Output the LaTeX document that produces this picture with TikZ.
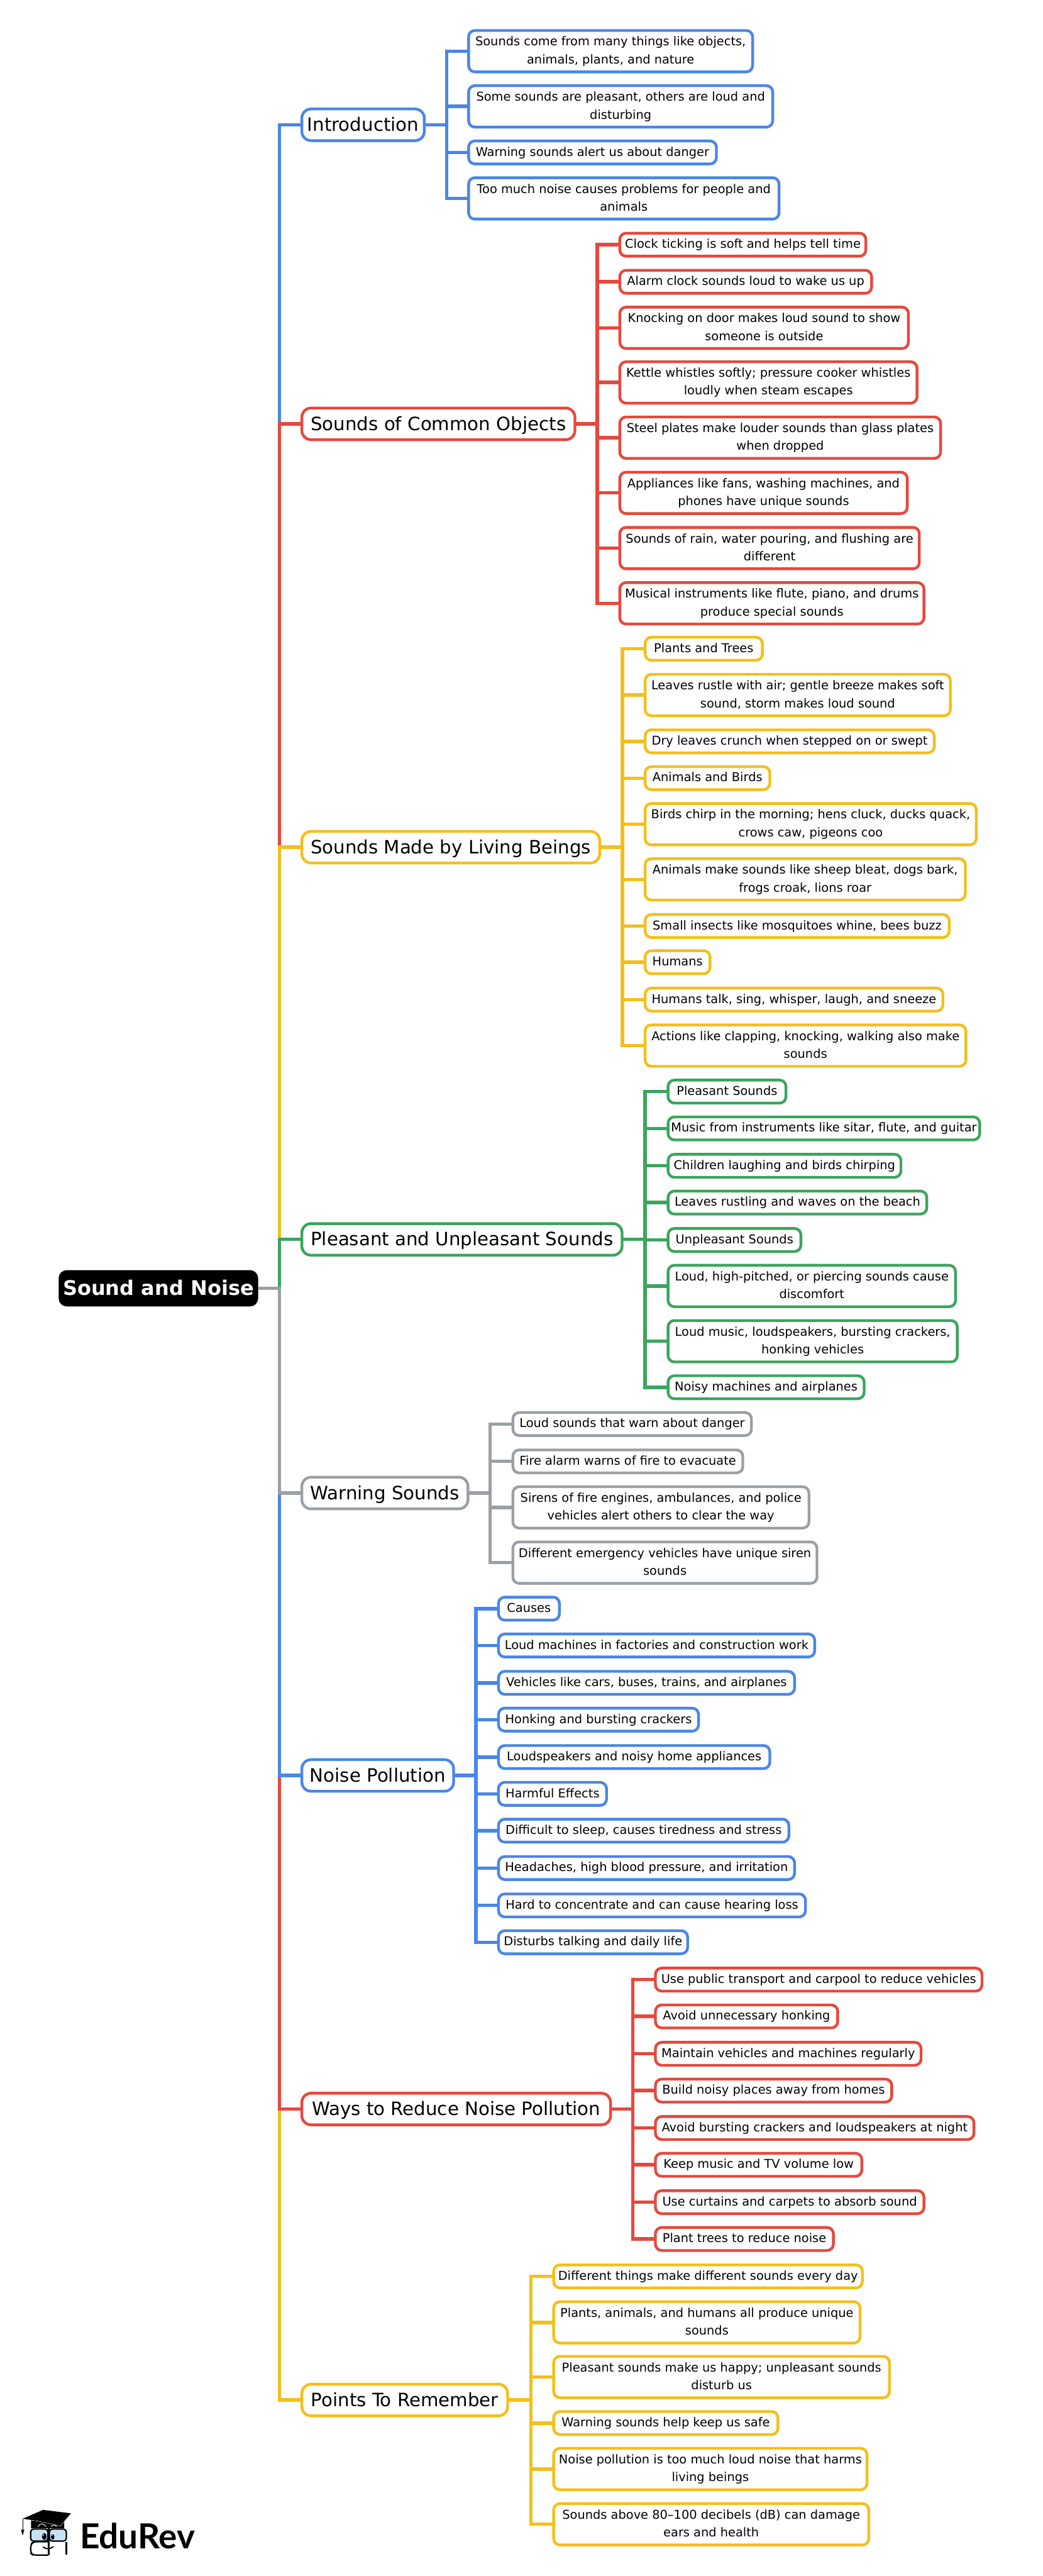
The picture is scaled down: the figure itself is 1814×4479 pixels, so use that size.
\documentclass[tikz,border=0pt]{standalone}
\usepackage{fontspec}
\setmainfont{DejaVu Sans}
\newfontfamily\logofont{Lato}
\definecolor{cblue}{HTML}{4A86E8}
\definecolor{cred}{HTML}{E6483D}
\definecolor{cyellow}{HTML}{F4BF1B}
\definecolor{cgreen}{HTML}{3BA55D}
\definecolor{cgrey}{HTML}{9AA0A6}
\definecolor{cglass}{HTML}{C5E3F6}
\tikzset{
 kidbox/.style={rectangle,rounded corners=11pt,line width=4.8pt,fill=white,inner sep=0pt,outer sep=0pt,align=center,text=black,font=\fontsize{21.2}{31}\selectfont},
 branchbox/.style={rectangle,rounded corners=16pt,line width=4.8pt,fill=white,inner sep=0pt,outer sep=0pt,align=center,text=black,font=\fontsize{32}{40}\selectfont},
 rootbox/.style={rectangle,rounded corners=14pt,fill=black,inner sep=0pt,outer sep=0pt,align=center,text=white,font=\fontsize{35}{40}\selectfont\bfseries},
 edge/.style={line width=6pt,sharp corners},
}
% #1 name, #2 colour, #3 left, #4 right, #5 centre y, #6 bracket x, #7 text
\newcommand{\branch}[7]{%
 \pgfmathsetmacro\kw{#4-#3-4}\pgfmathsetmacro\kx{(#3+#4)/2}%
 \node[branchbox,draw=#2,minimum width=\kw pt,minimum height=55pt] (#1) at (\kx,#5) {\rule[-12pt]{0pt}{46pt}#7};
 \coordinate (#1b) at (#6,#5);
 \def\curP{#1}\def\curC{#2}}
% #1 name, #2 left, #3 right, #4 centre y, #5 lines, #6 text
\newcommand{\kid}[6]{%
 \pgfmathsetmacro\kw{#3-#2-4}\pgfmathsetmacro\kx{(#2+#3)/2}%
 \ifnum#5=1 \def\kh{40}\else\def\kh{72}\fi
 \node[kidbox,draw=\curC,minimum width=\kw pt,minimum height=\kh pt] (#1) at (\kx,#4) {\strut #6\strut};
 \draw[edge,\curC] (\curP.east) -- (\curP b) |- (#1.west);}
\begin{document}
\begin{tikzpicture}[x=1pt,y=-1pt]
\useasboundingbox (0,0) rectangle (1814,4479);
\fill[white] (0,0) rectangle (1814,4479);
% main nodes
\node[rootbox,minimum width=347pt,minimum height=63pt] (root) at (275.5,2240) {\rule[-12pt]{0pt}{48pt}Sound and Noise};
\coordinate (spine) at (486,2240);

\branch{intro}{cblue}{523}{740}{217}{777}{Introduction}
\kid{i1}{813}{1311}{89}{2}{Sounds come from many things like objects,\\animals, plants, and nature}
\kid{i2}{813}{1346}{185}{2}{Some sounds are pleasant, others are loud and\\disturbing}
\kid{i3}{813}{1248}{265}{1}{Warning sounds alert us about danger}
\kid{i4}{813}{1357}{345}{2}{Too much noise causes problems for people and\\animals}

\branch{obj}{cred}{523}{1002}{737}{1039}{Sounds of Common Objects}
\kid{o1}{1076}{1508}{425.5}{1}{Clock ticking is soft and helps tell time}
\kid{o2}{1076}{1518}{490}{1}{Alarm clock sounds loud to wake us up}
\kid{o3}{1076}{1582}{570}{2}{Knocking on door makes loud sound to show\\someone is outside}
\kid{o4}{1076}{1597}{665}{2}{Kettle whistles softly; pressure cooker whistles\\loudly when steam escapes}
\kid{o5}{1076}{1638}{761}{2}{Steel plates make louder sounds than glass plates\\when dropped}
\kid{o6}{1076}{1580}{857}{2}{Appliances like fans, washing machines, and\\phones have unique sounds}
\kid{o7}{1076}{1601}{953}{2}{Sounds of rain, water pouring, and flushing are\\different}
\kid{o8}{1076}{1609}{1049}{2}{Musical instruments like flute, piano, and drums\\produce special sounds}

\branch{liv}{cyellow}{523}{1045}{1473}{1082.5}{Sounds Made by Living Beings}
\kid{l1}{1120}{1328}{1128}{1}{Plants and Trees}
\kid{l2}{1120}{1655}{1208.5}{2}{Leaves rustle with air; gentle breeze makes soft\\sound, storm makes loud sound}
\kid{l3}{1120}{1627}{1289}{1}{Dry leaves crunch when stepped on or swept}
\kid{l4}{1120}{1341}{1353}{1}{Animals and Birds}
\kid{l5}{1120}{1700}{1433}{2}{Birds chirp in the morning; hens cluck, ducks quack,\\crows caw, pigeons coo}
\kid{l6}{1120}{1681}{1529}{2}{Animals make sounds like sheep bleat, dogs bark,\\frogs croak, lions roar}
\kid{l7}{1120}{1653}{1610}{1}{Small insects like mosquitoes whine, bees buzz}
\kid{l8}{1120}{1237}{1673}{1}{Humans}
\kid{l9}{1120}{1642}{1738}{1}{Humans talk, sing, whisper, laugh, and sneeze}
\kid{l10}{1120}{1682}{1818}{2}{Actions like clapping, knocking, walking also make\\sounds}

\branch{ple}{cgreen}{523}{1084}{2155}{1122}{Pleasant and Unpleasant Sounds}
\kid{p1}{1160}{1369}{1898}{1}{Pleasant Sounds}
\kid{p2}{1160}{1706}{1962}{1}{Music from instruments like sitar, flute, and guitar}
\kid{p3}{1160}{1569}{2027}{1}{Children laughing and birds chirping}
\kid{p4}{1160}{1614}{2091}{1}{Leaves rustling and waves on the beach}
\kid{p5}{1160}{1395}{2156}{1}{Unpleasant Sounds}
\kid{p6}{1160}{1664}{2236}{2}{Loud, high-pitched, or piercing sounds cause\\discomfort}
\kid{p7}{1160}{1667}{2332}{2}{Loud music, loudspeakers, bursting crackers,\\honking vehicles}
\kid{p8}{1160}{1505}{2412}{1}{Noisy machines and airplanes}

\branch{war}{cgrey}{523}{816}{2596}{852.5}{Warning Sounds}
\kid{w1}{890}{1309}{2476}{1}{Loud sounds that warn about danger}
\kid{w2}{890}{1294}{2541}{1}{Fire alarm warns of fire to evacuate}
\kid{w3}{890}{1409}{2621}{2}{Sirens of fire engines, ambulances, and police\\vehicles alert others to clear the way}
\kid{w4}{890}{1423}{2717}{2}{Different emergency vehicles have unique siren\\sounds}

\branch{noi}{cblue}{523}{791}{3087}{828}{Noise Pollution}
\kid{n1}{865}{975}{2797}{1}{Causes}
\kid{n2}{865}{1419}{2861}{1}{Loud machines in factories and construction work}
\kid{n3}{865}{1384}{2926}{1}{Vehicles like cars, buses, trains, and airplanes}
\kid{n4}{865}{1217}{2990}{1}{Honking and bursting crackers}
\kid{n5}{865}{1341}{3055}{1}{Loudspeakers and noisy home appliances}
\kid{n6}{865}{1057}{3119}{1}{Harmful Effects}
\kid{n7}{865}{1374}{3183}{1}{Difficult to sleep, causes tiredness and stress}
\kid{n8}{865}{1384}{3248}{1}{Headaches, high blood pressure, and irritation}
\kid{n9}{865}{1403}{3313}{1}{Hard to concentrate and can cause hearing loss}
\kid{n10}{865}{1198}{3377}{1}{Disturbs talking and daily life}

\branch{way}{cred}{523}{1064}{3667}{1100.7}{Ways to Reduce Noise Pollution}
\kid{y1}{1138}{1710}{3442}{1}{Use public transport and carpool to reduce vehicles}
\kid{y2}{1138}{1459}{3506}{1}{Avoid unnecessary honking}
\kid{y3}{1138}{1604}{3571}{1}{Maintain vehicles and machines regularly}
\kid{y4}{1138}{1553}{3635}{1}{Build noisy places away from homes}
\kid{y5}{1138}{1696}{3700}{1}{Avoid bursting crackers and loudspeakers at night}
\kid{y6}{1138}{1501}{3764}{1}{Keep music and TV volume low}
\kid{y7}{1138}{1609}{3829}{1}{Use curtains and carpets to absorb sound}
\kid{y8}{1138}{1451.5}{3893}{1}{Plant trees to reduce noise}

\branch{pts}{cyellow}{523}{885}{4173}{923.5}{Points To Remember}
\kid{r1}{961}{1502}{3958}{1}{Different things make different sounds every day}
\kid{r2}{961}{1498}{4038}{2}{Plants, animals, and humans all produce unique\\sounds}
\kid{r3}{961}{1549}{4133}{2}{Pleasant sounds make us happy; unpleasant sounds\\disturb us}
\kid{r4}{961}{1355}{4213}{1}{Warning sounds help keep us safe}
\kid{r5}{961}{1510}{4293}{2}{Noise pollution is too much loud noise that harms\\living beings}
\kid{r6}{961}{1513}{4389}{2}{Sounds above 80–100 decibels (dB) can damage\\ears and health}

% spine, outermost first so that nearer branches lie on top
\draw[edge,cblue] (root.east) -- (spine) |- (intro.west);
\draw[edge,cred] (root.east) -- (spine) |- (obj.west);
\draw[edge,cyellow] (root.east) -- (spine) |- (liv.west);
\draw[edge,cgreen] (root.east) -- (spine) |- (ple.west);
\draw[edge,cyellow] (root.east) -- (spine) |- (pts.west);
\draw[edge,cred] (root.east) -- (spine) |- (way.west);
\draw[edge,cblue] (root.east) -- (spine) |- (noi.west);
\draw[edge,cgrey] (root.east) -- (spine) |- (war.west);

% logo
\begin{scope}[shift={(30,4350)},x=0.3333pt,y=-0.3333pt]
 \fill[black] (72,95) -- (245,100) -- (245,138) -- (72,138) -- cycle;
 \draw[white,line width=1.2pt,fill=black] (28,88) -- (135,42) -- (280,60) -- (225,125) -- (110,100) -- cycle;
 \fill[black] (28,88) -- (135,42) -- (280,60) -- (225,125) -- (110,100) -- cycle;
 \draw[black,line width=1pt] (28,88) -- (28,145);
 \fill[black] (20,145) -- (37,145) -- (28,176) -- cycle;
 \draw[white,line width=1pt] (108,130) .. controls (118,110) and (138,110) .. (150,130);
 \draw[white,line width=1pt] (176,130) .. controls (186,118) and (196,118) .. (206,130);
 \draw[black,line width=2.4pt,fill=cglass,rounded corners=5pt] (70,142) rectangle (160,205);
 \draw[black,line width=2.4pt,fill=cglass,rounded corners=5pt] (168,142) rectangle (256,205);
 \draw[black,line width=2.4pt,rounded corners=6pt] (160,208) -- (82,208) -- (70,225) -- (70,268) -- (82,278) -- (160,278);
 \draw[black,line width=2.4pt] (256,210) -- (256,276);
 \draw[black,line width=2.4pt] (164,135) -- (164,280);
 \fill[black] (141,181) ellipse [x radius=12,y radius=18];
 \fill[black] (185,183) ellipse [x radius=9,y radius=14];
 \fill[white] (137,173) circle [radius=4];
 \fill[white] (183,176) circle [radius=3];
 \draw[black,line width=2pt,line cap=round] (135,236) .. controls (150,248) and (172,248) .. (188,234);
\end{scope}
\node[inner sep=0pt,outer sep=0pt,anchor=base west,font=\logofont\bfseries\fontsize{60}{62}\selectfont] (logo) at (139,4431) {EduRev};
\end{tikzpicture}
\end{document}
